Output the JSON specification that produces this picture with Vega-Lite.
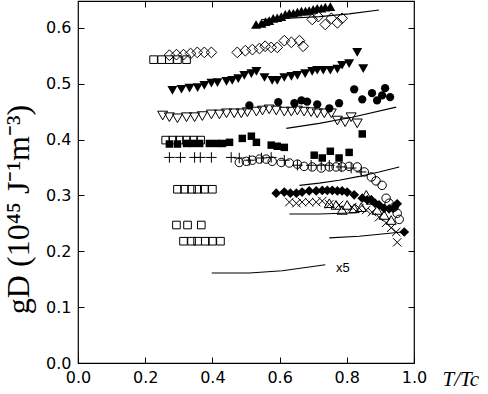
{
  "$schema": "https://vega.github.io/schema/vega-lite/v6.json",
  "width": 336,
  "height": 362,
  "autosize": "none",
  "padding": {"left": 78, "top": 1, "right": 74, "bottom": 31},
  "background": "white",
  "datasets": {
    "pts": [
      {"s":"sq_o","x":0.225,"y":0.543},{"s":"sq_o","x":0.249,"y":0.543},{"s":"sq_o","x":0.272,"y":0.543},{"s":"sq_o","x":0.296,"y":0.543},{"s":"sq_o","x":0.323,"y":0.543},
      {"s":"sq_o","x":0.261,"y":0.399},{"s":"sq_o","x":0.282,"y":0.399},{"s":"sq_o","x":0.302,"y":0.399},{"s":"sq_o","x":0.323,"y":0.399},{"s":"sq_o","x":0.344,"y":0.399},{"s":"sq_o","x":0.365,"y":0.399},
      {"s":"sq_o","x":0.296,"y":0.311},{"s":"sq_o","x":0.317,"y":0.311},{"s":"sq_o","x":0.338,"y":0.311},{"s":"sq_o","x":0.356,"y":0.311},{"s":"sq_o","x":0.376,"y":0.311},{"s":"sq_o","x":0.400,"y":0.311},
      {"s":"sq_o","x":0.293,"y":0.247},{"s":"sq_o","x":0.326,"y":0.247},{"s":"sq_o","x":0.367,"y":0.247},
      {"s":"sq_o","x":0.314,"y":0.218},{"s":"sq_o","x":0.338,"y":0.218},{"s":"sq_o","x":0.356,"y":0.218},{"s":"sq_o","x":0.379,"y":0.218},{"s":"sq_o","x":0.400,"y":0.218},{"s":"sq_o","x":0.424,"y":0.218},

      {"s":"dia_o","x":0.272,"y":0.551},{"s":"dia_o","x":0.293,"y":0.552},{"s":"dia_o","x":0.314,"y":0.552},{"s":"dia_o","x":0.335,"y":0.554},{"s":"dia_o","x":0.355,"y":0.556},{"s":"dia_o","x":0.376,"y":0.556},{"s":"dia_o","x":0.397,"y":0.556},
      {"s":"dia_o","x":0.474,"y":0.556},{"s":"dia_o","x":0.498,"y":0.559},{"s":"dia_o","x":0.519,"y":0.561},{"s":"dia_o","x":0.540,"y":0.563},{"s":"dia_o","x":0.557,"y":0.567},{"s":"dia_o","x":0.575,"y":0.565},{"s":"dia_o","x":0.593,"y":0.565},{"s":"dia_o","x":0.614,"y":0.577},{"s":"dia_o","x":0.635,"y":0.574},{"s":"dia_o","x":0.659,"y":0.577},{"s":"dia_o","x":0.670,"y":0.567},
      {"s":"dia_o","x":0.697,"y":0.615},{"s":"dia_o","x":0.715,"y":0.620},{"s":"dia_o","x":0.736,"y":0.606},{"s":"dia_o","x":0.754,"y":0.617},{"s":"dia_o","x":0.772,"y":0.609},{"s":"dia_o","x":0.786,"y":0.617},

      {"s":"td_o","x":0.252,"y":0.443},{"s":"td_o","x":0.272,"y":0.440},{"s":"td_o","x":0.296,"y":0.438},{"s":"td_o","x":0.323,"y":0.440},{"s":"td_o","x":0.347,"y":0.440},{"s":"td_o","x":0.370,"y":0.442},{"s":"td_o","x":0.397,"y":0.445},{"s":"td_o","x":0.421,"y":0.445},{"s":"td_o","x":0.442,"y":0.447},{"s":"td_o","x":0.465,"y":0.447},{"s":"td_o","x":0.486,"y":0.447},{"s":"td_o","x":0.504,"y":0.449},{"s":"td_o","x":0.531,"y":0.450},{"s":"td_o","x":0.549,"y":0.452},{"s":"td_o","x":0.569,"y":0.454},{"s":"td_o","x":0.590,"y":0.452},{"s":"td_o","x":0.614,"y":0.450},{"s":"td_o","x":0.635,"y":0.450},{"s":"td_o","x":0.653,"y":0.452},{"s":"td_o","x":0.673,"y":0.450},{"s":"td_o","x":0.694,"y":0.449},{"s":"td_o","x":0.712,"y":0.447},{"s":"td_o","x":0.733,"y":0.447},{"s":"td_o","x":0.754,"y":0.447},{"s":"td_o","x":0.772,"y":0.434},{"s":"td_o","x":0.795,"y":0.431},{"s":"td_o","x":0.813,"y":0.440},{"s":"td_o","x":0.831,"y":0.429},

      {"s":"ci_o","x":0.480,"y":0.359},{"s":"ci_o","x":0.501,"y":0.361},{"s":"ci_o","x":0.519,"y":0.363},{"s":"ci_o","x":0.540,"y":0.365},{"s":"ci_o","x":0.560,"y":0.365},{"s":"ci_o","x":0.578,"y":0.361},{"s":"ci_o","x":0.605,"y":0.359},{"s":"ci_o","x":0.629,"y":0.358},{"s":"ci_o","x":0.653,"y":0.356},{"s":"ci_o","x":0.673,"y":0.352},{"s":"ci_o","x":0.697,"y":0.351},{"s":"ci_o","x":0.724,"y":0.349},{"s":"ci_o","x":0.748,"y":0.351},{"s":"ci_o","x":0.768,"y":0.351},{"s":"ci_o","x":0.786,"y":0.351},{"s":"ci_o","x":0.807,"y":0.352},{"s":"ci_o","x":0.831,"y":0.351},{"s":"ci_o","x":0.852,"y":0.342},{"s":"ci_o","x":0.873,"y":0.333},{"s":"ci_o","x":0.887,"y":0.326},{"s":"ci_o","x":0.905,"y":0.318},{"s":"ci_o","x":0.917,"y":0.295},{"s":"ci_o","x":0.926,"y":0.286},{"s":"ci_o","x":0.941,"y":0.279},{"s":"ci_o","x":0.950,"y":0.268},{"s":"ci_o","x":0.956,"y":0.257},

      {"s":"plus","x":0.272,"y":0.368},{"s":"plus","x":0.305,"y":0.368},{"s":"plus","x":0.347,"y":0.368},{"s":"plus","x":0.364,"y":0.368},{"s":"plus","x":0.397,"y":0.368},{"s":"plus","x":0.456,"y":0.368},{"s":"plus","x":0.480,"y":0.367},{"s":"plus","x":0.510,"y":0.363},{"s":"plus","x":0.546,"y":0.367},{"s":"plus","x":0.575,"y":0.368},{"s":"plus","x":0.614,"y":0.363},{"s":"plus","x":0.653,"y":0.354},{"s":"plus","x":0.694,"y":0.354},{"s":"plus","x":0.724,"y":0.354},{"s":"plus","x":0.748,"y":0.354},{"s":"plus","x":0.783,"y":0.351},{"s":"plus","x":0.813,"y":0.349},{"s":"plus","x":0.843,"y":0.342},

      {"s":"tu_o","x":0.748,"y":0.286},{"s":"tu_o","x":0.768,"y":0.283},{"s":"tu_o","x":0.786,"y":0.274},{"s":"tu_o","x":0.801,"y":0.283},{"s":"tu_o","x":0.822,"y":0.277},{"s":"tu_o","x":0.843,"y":0.279},{"s":"tu_o","x":0.858,"y":0.301},{"s":"tu_o","x":0.873,"y":0.292},{"s":"tu_o","x":0.890,"y":0.274},{"s":"tu_o","x":0.911,"y":0.265},{"s":"tu_o","x":0.932,"y":0.256},

      {"s":"cross","x":0.629,"y":0.288},{"s":"cross","x":0.650,"y":0.286},{"s":"cross","x":0.667,"y":0.288},{"s":"cross","x":0.688,"y":0.288},{"s":"cross","x":0.709,"y":0.288},{"s":"cross","x":0.727,"y":0.290},{"s":"cross","x":0.748,"y":0.284},{"s":"cross","x":0.777,"y":0.283},{"s":"cross","x":0.816,"y":0.279},{"s":"cross","x":0.837,"y":0.277},{"s":"cross","x":0.858,"y":0.274},{"s":"cross","x":0.875,"y":0.270},{"s":"cross","x":0.896,"y":0.261},{"s":"cross","x":0.917,"y":0.251},{"s":"cross","x":0.932,"y":0.242},{"s":"cross","x":0.947,"y":0.2345},{"s":"cross","x":0.950,"y":0.216},

      {"s":"tu_f","x":0.530,"y":0.606},{"s":"tu_f","x":0.546,"y":0.608},{"s":"tu_f","x":0.558,"y":0.611},{"s":"tu_f","x":0.569,"y":0.613},{"s":"tu_f","x":0.581,"y":0.617},{"s":"tu_f","x":0.593,"y":0.618},{"s":"tu_f","x":0.605,"y":0.620},{"s":"tu_f","x":0.617,"y":0.624},{"s":"tu_f","x":0.629,"y":0.626},{"s":"tu_f","x":0.641,"y":0.626},{"s":"tu_f","x":0.653,"y":0.628},{"s":"tu_f","x":0.665,"y":0.630},{"s":"tu_f","x":0.677,"y":0.630},{"s":"tu_f","x":0.688,"y":0.631},{"s":"tu_f","x":0.700,"y":0.633},{"s":"tu_f","x":0.712,"y":0.635},{"s":"tu_f","x":0.724,"y":0.635},{"s":"tu_f","x":0.736,"y":0.637},{"s":"tu_f","x":0.751,"y":0.638},

      {"s":"td_f","x":0.281,"y":0.488},{"s":"td_f","x":0.308,"y":0.490},{"s":"td_f","x":0.332,"y":0.492},{"s":"td_f","x":0.356,"y":0.493},{"s":"td_f","x":0.376,"y":0.497},{"s":"td_f","x":0.397,"y":0.501},{"s":"td_f","x":0.415,"y":0.502},{"s":"td_f","x":0.442,"y":0.504},{"s":"td_f","x":0.459,"y":0.506},{"s":"td_f","x":0.477,"y":0.509},{"s":"td_f","x":0.495,"y":0.515},{"s":"td_f","x":0.516,"y":0.518},{"s":"td_f","x":0.531,"y":0.522},{"s":"td_f","x":0.555,"y":0.511},{"s":"td_f","x":0.578,"y":0.506},{"s":"td_f","x":0.593,"y":0.506},{"s":"td_f","x":0.614,"y":0.511},{"s":"td_f","x":0.635,"y":0.513},{"s":"td_f","x":0.653,"y":0.515},{"s":"td_f","x":0.676,"y":0.518},{"s":"td_f","x":0.697,"y":0.522},{"s":"td_f","x":0.712,"y":0.524},{"s":"td_f","x":0.730,"y":0.524},{"s":"td_f","x":0.751,"y":0.524},{"s":"td_f","x":0.772,"y":0.526},{"s":"td_f","x":0.786,"y":0.533},{"s":"td_f","x":0.807,"y":0.536},{"s":"td_f","x":0.831,"y":0.556},{"s":"td_f","x":0.849,"y":0.527},

      {"s":"ci_f","x":0.510,"y":0.461},{"s":"ci_f","x":0.596,"y":0.467},{"s":"ci_f","x":0.644,"y":0.465},{"s":"ci_f","x":0.665,"y":0.470},{"s":"ci_f","x":0.682,"y":0.468},{"s":"ci_f","x":0.712,"y":0.463},{"s":"ci_f","x":0.748,"y":0.456},{"s":"ci_f","x":0.777,"y":0.465},{"s":"ci_f","x":0.822,"y":0.490},{"s":"ci_f","x":0.846,"y":0.472},{"s":"ci_f","x":0.875,"y":0.483},{"s":"ci_f","x":0.890,"y":0.470},{"s":"ci_f","x":0.905,"y":0.479},{"s":"ci_f","x":0.914,"y":0.492},{"s":"ci_f","x":0.929,"y":0.476},

      {"s":"sq_f","x":0.272,"y":0.392},{"s":"sq_f","x":0.296,"y":0.392},{"s":"sq_f","x":0.323,"y":0.393},{"s":"sq_f","x":0.341,"y":0.393},{"s":"sq_f","x":0.362,"y":0.393},{"s":"sq_f","x":0.391,"y":0.393},{"s":"sq_f","x":0.412,"y":0.393},{"s":"sq_f","x":0.430,"y":0.393},{"s":"sq_f","x":0.451,"y":0.395},{"s":"sq_f","x":0.489,"y":0.402},{"s":"sq_f","x":0.516,"y":0.406},{"s":"sq_f","x":0.531,"y":0.395},{"s":"sq_f","x":0.575,"y":0.390},{"s":"sq_f","x":0.593,"y":0.388},{"s":"sq_f","x":0.614,"y":0.386},{"s":"sq_f","x":0.703,"y":0.372},{"s":"sq_f","x":0.727,"y":0.367},{"s":"sq_f","x":0.751,"y":0.379},{"s":"sq_f","x":0.777,"y":0.367},{"s":"sq_f","x":0.807,"y":0.377},{"s":"sq_f","x":0.846,"y":0.410},

      {"s":"dia_f","x":0.590,"y":0.304},{"s":"dia_f","x":0.614,"y":0.306},{"s":"dia_f","x":0.632,"y":0.304},{"s":"dia_f","x":0.650,"y":0.304},{"s":"dia_f","x":0.667,"y":0.306},{"s":"dia_f","x":0.688,"y":0.308},{"s":"dia_f","x":0.709,"y":0.308},{"s":"dia_f","x":0.727,"y":0.309},{"s":"dia_f","x":0.742,"y":0.309},{"s":"dia_f","x":0.757,"y":0.309},{"s":"dia_f","x":0.772,"y":0.308},{"s":"dia_f","x":0.786,"y":0.308},{"s":"dia_f","x":0.801,"y":0.306},{"s":"dia_f","x":0.822,"y":0.301},{"s":"dia_f","x":0.846,"y":0.295},{"s":"dia_f","x":0.861,"y":0.292},{"s":"dia_f","x":0.873,"y":0.292},{"s":"dia_f","x":0.884,"y":0.286},{"s":"dia_f","x":0.896,"y":0.283},{"s":"dia_f","x":0.911,"y":0.277},{"s":"dia_f","x":0.926,"y":0.276},{"s":"dia_f","x":0.938,"y":0.277},{"s":"dia_f","x":0.950,"y":0.285},{"s":"dia_f","x":0.971,"y":0.2345}
    ],
    "lines": [
      {"id":"L1","x":0.546,"y":0.615},{"id":"L1","x":0.629,"y":0.617},{"id":"L1","x":0.718,"y":0.620},{"id":"L1","x":0.807,"y":0.625},{"id":"L1","x":0.896,"y":0.632},
      {"id":"L2","x":0.620,"y":0.420},{"id":"L2","x":0.718,"y":0.429},{"id":"L2","x":0.816,"y":0.440},{"id":"L2","x":0.947,"y":0.458},
      {"id":"L3","x":0.659,"y":0.318},{"id":"L3","x":0.718,"y":0.322},{"id":"L3","x":0.777,"y":0.327},{"id":"L3","x":0.837,"y":0.334},{"id":"L3","x":0.896,"y":0.342},{"id":"L3","x":0.956,"y":0.351},
      {"id":"L4","x":0.629,"y":0.2666},{"id":"L4","x":0.718,"y":0.2666},{"id":"L4","x":0.830,"y":0.269},
      {"id":"L5","x":0.748,"y":0.224},{"id":"L5","x":0.837,"y":0.227},{"id":"L5","x":0.965,"y":0.2345},
      {"id":"L6","x":0.398,"y":0.161},{"id":"L6","x":0.510,"y":0.161},{"id":"L6","x":0.608,"y":0.165},{"id":"L6","x":0.736,"y":0.176}
    ],
    "txt": [{"label":"x5","x":0.768,"y":0.170}]
  },
  "encoding": {
    "x": {"field":"x","type":"quantitative","scale":{"domain":[0,1],"nice":false},"axis":null},
    "y": {"field":"y","type":"quantitative","scale":{"domain":[0,0.648],"nice":false},"axis":null}
  },
  "layer": [
    {
      "data": {"name":"lines"},
      "mark": {"type":"line","color":"black","strokeWidth":1.1},
      "encoding": {
        "detail": {"field":"id"},
        "x": {"field":"x","type":"quantitative","scale":{"domain":[0,1],"nice":false},
          "axis": {"orient":"bottom","values":[0,0.2,0.4,0.6,0.8,1],"format":".1f","tickSize":-6,"tickColor":"black","domain":false,"grid":false,
            "labelPadding":12,"labelFont":"DejaVu Sans","labelFontSize":16,"labelColor":"black","labelOverlap":false,"labelFlush":false,
            "title":"T/Tc","titleFont":"Liberation Serif","titleFontStyle":"italic","titleFontWeight":"normal","titleFontSize":21,"titleColor":"black",
            "titleX":364,"titleY":16,"titleAlign":"left","titleBaseline":"middle"}},
        "y": {"field":"y","type":"quantitative","scale":{"domain":[0,0.648],"nice":false},
          "axis": {"orient":"left","values":[0,0.1,0.2,0.3,0.4,0.5,0.6],"format":".1f","tickSize":-6,"tickColor":"black","domain":false,"grid":false,
            "labelPadding":13,"labelFont":"DejaVu Sans","labelFontSize":16,"labelColor":"black","labelOverlap":false,"labelFlush":false,
            "title":"gD (10⁴⁵ J⁻¹m⁻³)","titleFont":"Liberation Serif","titleFontWeight":"normal","titleFontSize":32,"titleColor":"black",
            "titleX":-60,"titleY":208,"titleAngle":-90,"titleAlign":"center","titleBaseline":"middle"}}
      }
    },
    {"data":{"name":"pts"},"transform":[{"filter":"datum.s==='sq_o'"}],"mark":{"type":"point","shape":"square","filled":false,"color":"black","strokeWidth":1,"size":58,"opacity":1}},
    {"data":{"name":"pts"},"transform":[{"filter":"datum.s==='dia_o'"}],"mark":{"type":"point","shape":"diamond","filled":false,"color":"black","strokeWidth":1,"size":115,"opacity":1}},
    {"data":{"name":"pts"},"transform":[{"filter":"datum.s==='td_o'"}],"mark":{"type":"point","shape":"triangle-down","filled":false,"color":"black","strokeWidth":1,"size":100,"opacity":1}},
    {"data":{"name":"pts"},"transform":[{"filter":"datum.s==='ci_o'"}],"mark":{"type":"point","shape":"circle","filled":false,"color":"black","strokeWidth":1,"size":72,"opacity":1}},
    {"data":{"name":"pts"},"transform":[{"filter":"datum.s==='plus'"}],"mark":{"type":"point","shape":"M-1,0L1,0M0,-1L0,1","filled":false,"color":"black","strokeWidth":1,"size":110,"opacity":1}},
    {"data":{"name":"pts"},"transform":[{"filter":"datum.s==='tu_o'"}],"mark":{"type":"point","shape":"triangle-up","filled":false,"color":"black","strokeWidth":1,"size":100,"opacity":1}},
    {"data":{"name":"pts"},"transform":[{"filter":"datum.s==='cross'"}],"mark":{"type":"point","shape":"M-1,-1L1,1M-1,1L1,-1","filled":false,"color":"black","strokeWidth":1,"size":70,"opacity":1}},
    {"data":{"name":"pts"},"transform":[{"filter":"datum.s==='tu_f'"}],"mark":{"type":"point","shape":"triangle-up","filled":true,"color":"black","size":100,"opacity":1}},
    {"data":{"name":"pts"},"transform":[{"filter":"datum.s==='td_f'"}],"mark":{"type":"point","shape":"triangle-down","filled":true,"color":"black","size":100,"opacity":1}},
    {"data":{"name":"pts"},"transform":[{"filter":"datum.s==='ci_f'"}],"mark":{"type":"point","shape":"circle","filled":true,"color":"black","size":68,"opacity":1}},
    {"data":{"name":"pts"},"transform":[{"filter":"datum.s==='sq_f'"}],"mark":{"type":"point","shape":"square","filled":true,"color":"black","size":56,"opacity":1}},
    {"data":{"name":"pts"},"transform":[{"filter":"datum.s==='dia_f'"}],"mark":{"type":"point","shape":"diamond","filled":true,"color":"black","size":95,"opacity":1}},
    {
      "data": {"name":"txt"},
      "mark": {"type":"text","align":"left","baseline":"middle","font":"Liberation Sans","fontSize":13,"color":"black"},
      "encoding": {
        "text": {"field":"label"},
        "x": {"field":"x","type":"quantitative","scale":{"domain":[0,1],"nice":false},
          "axis": {"orient":"top","values":[0.2,0.4,0.6,0.8],"tickSize":-6,"tickColor":"black","domain":false,"grid":false,"labels":false,"title":null}},
        "y": {"field":"y","type":"quantitative","scale":{"domain":[0,0.648],"nice":false},
          "axis": {"orient":"right","values":[0.1,0.2,0.3,0.4,0.5,0.6],"tickSize":-6,"tickColor":"black","domain":false,"grid":false,"labels":false,"title":null}}
      }
    }
  ],
  "resolve": {"axis": {"x":"independent","y":"independent"}},
  "config": {"view": {"stroke":"black","strokeWidth":1.2}}
}
